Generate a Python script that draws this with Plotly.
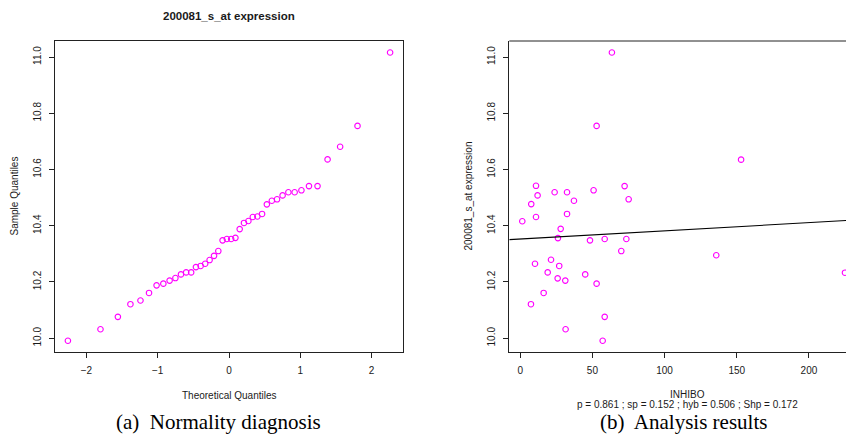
import plotly.graph_objects as go

W, H = 846, 437

# ---- Data ----
qq_theoretical = [-2.260, -1.803, -1.559, -1.383, -1.242, -1.122, -1.016, -0.921, -0.833, -0.752,
                  -0.674, -0.601, -0.531, -0.464, -0.398, -0.334, -0.272, -0.210, -0.150, -0.090,
                  -0.030, 0.030, 0.090, 0.150, 0.210, 0.272, 0.334, 0.398, 0.464, 0.531,
                  0.601, 0.674, 0.752, 0.833, 0.921, 1.016, 1.122, 1.242, 1.383, 1.559,
                  1.803, 2.260]
qq_sample = [9.991, 10.032, 10.076, 10.121, 10.134, 10.161, 10.188, 10.194, 10.205, 10.214,
             10.227, 10.234, 10.234, 10.253, 10.257, 10.265, 10.278, 10.293, 10.310, 10.348,
             10.353, 10.353, 10.357, 10.388, 10.410, 10.417, 10.431, 10.433, 10.442, 10.476,
             10.489, 10.494, 10.508, 10.519, 10.519, 10.526, 10.541, 10.541, 10.636, 10.681,
             10.755, 11.016]

inhibo = [63.5, 52.9, 153.0, 10.9, 12.0, 23.8, 32.4, 50.8, 72.3, 75.1,
          37.2, 7.6, 10.9, 32.4, 1.4, 28.0, 26.1, 48.3, 58.5, 73.5,
          70.0, 135.8, 10.2, 21.3, 27.0, 19.0, 45.0, 225.0, 25.9, 31.2,
          52.9, 16.2, 7.4, 58.5, 31.4, 57.1]
expression = [11.016, 10.755, 10.635, 10.542, 10.508, 10.519, 10.519, 10.526, 10.541, 10.494,
              10.489, 10.477, 10.431, 10.442, 10.416, 10.389, 10.356, 10.348, 10.353, 10.353,
              10.310, 10.295, 10.265, 10.279, 10.257, 10.234, 10.227, 10.233, 10.213, 10.205,
              10.194, 10.161, 10.121, 10.076, 10.032, 9.991]

fit_intercept = 10.353
fit_slope = 0.00029

left_xticks = [-2, -1, 0, 1, 2]
right_xticks = [0, 50, 100, 150, 200]
yticks = [10.0, 10.2, 10.4, 10.6, 10.8, 11.0]

title_text = "200081_s_at expression"
stats_text = "p = 0.861 ; sp = 0.152 ; hyb = 0.506 ; Shp = 0.172"

# ---- Layout geometry ----
def px_x(p):
    return p / W

def px_y(p):
    return 1 - p / H

left_dom = [px_x(55), px_x(403)]
right_dom = [px_x(509.3), 1.0]
y_dom = [px_y(352), px_y(41)]

xr_left = [-2.441, 2.441]
xr_right = [-7.6, 225.7]
yr = [9.951, 11.057]

MAG = "#FF00FF"
TXT = "#1a1a1a"
FONT = "Liberation Sans, Arial, sans-serif"
SERIF = "Liberation Serif, Times New Roman, serif"

marker = dict(symbol="circle-open", size=5.5, color=MAG, line=dict(width=1.1, color=MAG))

fig = go.Figure()
fig.add_trace(go.Scatter(x=qq_theoretical, y=qq_sample, mode="markers", marker=marker,
                         xaxis="x", yaxis="y", showlegend=False, hoverinfo="skip"))
fig.add_trace(go.Scatter(x=inhibo, y=expression, mode="markers", marker=marker,
                         xaxis="x2", yaxis="y2", showlegend=False, hoverinfo="skip"))
fig.add_trace(go.Scatter(x=xr_right, y=[fit_intercept + fit_slope * v for v in xr_right],
                         mode="lines", line=dict(color="black", width=1.1),
                         xaxis="x2", yaxis="y2", showlegend=False, hoverinfo="skip"))

axis_common = dict(showgrid=False, zeroline=False, showline=True, linecolor="#222",
                   linewidth=1, ticks="outside", ticklen=5, tickcolor="#222", tickwidth=1,
                   tickfont=dict(family=FONT, size=10, color=TXT))

fig.update_layout(
    width=W, height=H,
    margin=dict(l=0, r=0, t=0, b=0),
    paper_bgcolor="white", plot_bgcolor="white",
    xaxis=dict(domain=left_dom, range=xr_left, tickvals=left_xticks,
               ticktext=["\u22122", "\u22121", "0", "1", "2"], anchor="y",
               mirror=True, ticklabelstandoff=4, **axis_common),
    yaxis=dict(domain=y_dom, range=yr, tickvals=yticks,
               ticktext=[f"{v:.1f}" for v in yticks], tickangle=-90, anchor="x",
               mirror=True, ticklabelstandoff=4, **axis_common),
    xaxis2=dict(domain=right_dom, range=xr_right, tickvals=right_xticks,
                anchor="y2", ticklabelstandoff=4, **axis_common),
    yaxis2=dict(domain=y_dom, range=yr, tickvals=yticks,
                ticktext=[f"{v:.1f}" for v in yticks], tickangle=-90, anchor="x2",
                ticklabelstandoff=4, **axis_common),
    shapes=[dict(type="line", xref="paper", yref="paper", x0=right_dom[0], x1=1.0,
                 y0=y_dom[1], y1=y_dom[1], line=dict(color="#222", width=1))],
)

def ann(text, x, y, size=10, bold=False, family=FONT, angle=0, color=TXT, pad=1):
    t = f"<b>{text}</b>" if bold else text
    fig.add_annotation(text=t, xref="paper", yref="paper", x=px_x(x), y=px_y(y),
                       xanchor="center", yanchor="middle", showarrow=False, textangle=angle,
                       borderpad=pad, font=dict(family=family, size=size, color=color))

ann(title_text, 229, 16, size=11.5, bold=True)
ann("Theoretical Quantiles", 229, 395)
ann("Sample Quantiles", 14, 196.5, angle=-90)
ann("INHIBO", 687, 394)
ann(stats_text, 687, 404.5, pad=0)
ann("200081_s_at expression", 468, 196.5, angle=-90)
ann("(a)  Normality diagnosis", 218, 421.5, size=21, family=SERIF, color="black", pad=0)
ann("(b)  Analysis results", 683, 421.5, size=21, family=SERIF, color="black", pad=0)

fig.write_html("out.html")
